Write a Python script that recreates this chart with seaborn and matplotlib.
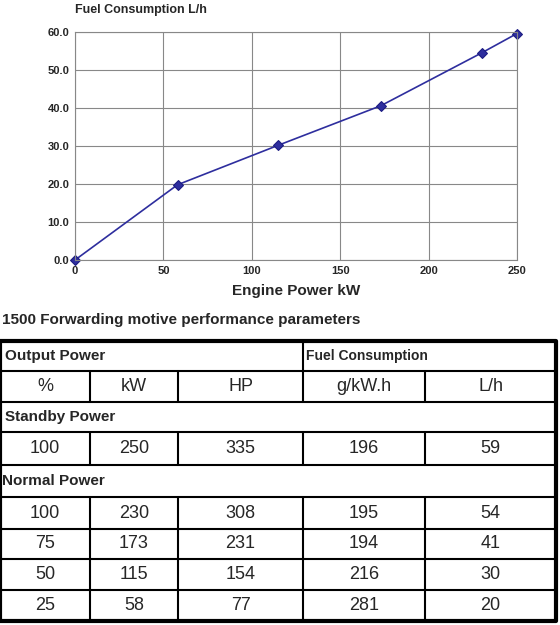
import matplotlib
matplotlib.use("Agg")
import matplotlib.pyplot as plt
import seaborn as sns
import pandas as pd

# chart data
power_kw = [0, 58, 115, 173, 230, 250]
fuel_lh = [0, 19.8, 30.2, 40.6, 54.5, 59.6]

# table data
head_units = ["%", "kW", "HP", "g/kW.h", "L/h"]
standby_rows = [["100", "250", "335", "196", "59"]]
normal_rows = [["100", "230", "308", "195", "54"],
               ["75", "173", "231", "194", "41"],
               ["50", "115", "154", "216", "30"],
               ["25", "58", "77", "281", "20"]]

sns.set_style("white")
plt.rcParams['font.family'] = ['Liberation Sans', 'DejaVu Sans']

fig = plt.figure(figsize=(5.6, 6.25), dpi=100)
W, H = 560, 625

ax = fig.add_axes([75 / W, (H - 260) / H, 442 / W, 228 / H])
df = pd.DataFrame({"kW": power_kw, "Lh": fuel_lh})
sns.lineplot(data=df, x="kW", y="Lh", ax=ax, color="#2e2e9e", lw=1.2,
             marker="D", markersize=5, markeredgecolor="#1a1a80", clip_on=False)
ax.set_xlim(0, 250)
ax.set_ylim(0, 60)
ax.set_xticks([0, 50, 100, 150, 200, 250])
ax.set_yticks(range(0, 61, 10))
ax.set_yticklabels([f"{v:.1f}" for v in range(0, 61, 10)])
ax.grid(True, color="#888888", lw=0.8)
for s in ax.spines.values():
    s.set_color("#888888")
ax.tick_params(labelsize=8, length=0, pad=4)
for t in ax.get_xticklabels() + ax.get_yticklabels():
    t.set_fontweight("bold")
ax.set_xlabel("Engine Power kW", fontsize=11, fontweight="bold", labelpad=6)
ax.set_ylabel("")
ax.text(0, 1.07, "Fuel Consumption L/h", transform=ax.transAxes,
        fontsize=9, fontweight="bold", va="bottom")

# table drawn in pixel coordinates
tb = fig.add_axes([0, 0, 1, 1], zorder=-1)
tb.set_xlim(0, W)
tb.set_ylim(H, 0)
tb.axis("off")
tb.text(2, 320, "1500 Forwarding motive performance parameters",
        fontsize=11, fontweight="bold", va="center")

cols = [0, 90, 178, 303, 425, 556]
rows = [341, 371, 402, 432, 465, 497, 529, 559, 590, 621]
lk = dict(color="black", lw=1.5)
tb.plot([cols[0], cols[-1], cols[-1], cols[0], cols[0]],
        [rows[0], rows[0], rows[-1], rows[-1], rows[0]], color="black", lw=3)
for y in rows[1:-1]:
    tb.plot([cols[0], cols[-1]], [y, y], **lk)
tb.plot([cols[3], cols[3]], [rows[0], rows[1]], **lk)
for (a, b) in [(1, 2), (3, 4)] + [(r, r + 1) for r in range(5, 9)]:
    for c in cols[1:-1]:
        tb.plot([c, c], [rows[a], rows[b]], **lk)

tb.text(5, (rows[0] + rows[1]) / 2, "Output Power", fontsize=11, fontweight="bold", va="center")
tb.text(cols[3] + 3, (rows[0] + rows[1]) / 2, "Fuel Consumption", fontsize=10,
        fontweight="bold", va="center")
tb.text(5, (rows[2] + rows[3]) / 2, "Standby Power", fontsize=11, fontweight="bold", va="center")
tb.text(2, (rows[4] + rows[5]) / 2, "Normal Power", fontsize=11, fontweight="bold", va="center")


def put_row(vals, r):
    yc = (rows[r] + rows[r + 1]) / 2
    for i, v in enumerate(vals):
        tb.text((cols[i] + cols[i + 1]) / 2, yc, v, fontsize=13,
                ha="center", va="center")


put_row(head_units, 1)
put_row(standby_rows[0], 3)
for k, rv in enumerate(normal_rows):
    put_row(rv, 5 + k)

fig.savefig("out.png", dpi=100, facecolor="white")
